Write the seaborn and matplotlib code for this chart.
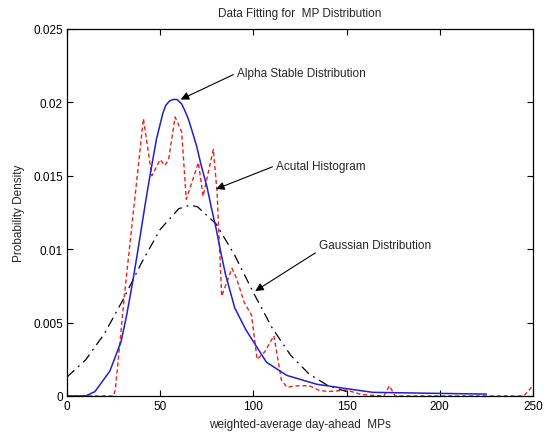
import matplotlib
matplotlib.use("Agg")
import matplotlib.pyplot as plt
import seaborn as sns
import pandas as pd

# ---- data ----
alpha_x = [0, 10, 15, 23, 29, 32, 35, 37.5, 40, 42, 44.5, 48, 51.5, 53, 55, 57, 59, 61.5, 63,
           65, 67, 69.6, 72, 75, 77.5, 80, 82.5, 85, 90, 96, 103, 107, 118, 134, 150, 164,
           188, 225]
alpha_y = [0, 0, 0.0003, 0.0017, 0.0037, 0.0055, 0.0076, 0.0095, 0.0115, 0.0131, 0.0150,
           0.0175, 0.0193, 0.0198, 0.0201, 0.0202, 0.0202, 0.0199, 0.0195, 0.0189, 0.0181,
           0.0170, 0.0157, 0.0143, 0.0128, 0.0114, 0.0098, 0.0083, 0.0060, 0.0045, 0.0031,
           0.0023, 0.0014, 0.0008, 0.0005, 0.00025, 0.0002, 0.00013]

hist_x = [0, 25, 26, 31, 36, 41, 45.5, 50, 52.5, 54.5, 58, 61.5, 64, 70.5, 73, 78.5, 80.5,
          83, 88.5, 91, 95, 99, 102, 106, 111, 115, 118, 124, 130, 135, 140, 150, 158, 170,
          173, 176, 180, 245, 250]
hist_y = [0, 0, 0.0005, 0.0071, 0.0130, 0.0189, 0.0150, 0.0161, 0.0157, 0.0161, 0.0190,
          0.0180, 0.0134, 0.0159, 0.0136, 0.0168, 0.0139, 0.0068, 0.0087, 0.0080, 0.0064,
          0.0055, 0.0025, 0.0030, 0.0041, 0.0011, 0.0006, 0.0007, 0.0007, 0.0004, 0.0003,
          0.0004, 0.0001, 0, 0.0007, 0, 0, 0, 0.0007]

gauss_x = [0, 10, 20, 30, 40, 50, 60, 66, 70, 80, 90, 100, 110, 120, 130, 140, 150]
gauss_y = [0.00129, 0.00246, 0.00423, 0.00654, 0.00908, 0.01135, 0.01276, 0.01300, 0.01289,
           0.01172, 0.00958, 0.00704, 0.00465, 0.00277, 0.00148, 0.00071, 0.00030]

x_ticks = [0, 50, 100, 150, 200, 250]
y_ticks = [0, 0.005, 0.01, 0.015, 0.02, 0.025]
y_tick_labels = ["0", "0.005", "0.01", "0.015", "0.02", "0.025"]

title = "Data Fitting for  MP Distribution"
xlabel = "weighted-average day-ahead  MPs"
ylabel = "Probability Density"

# ---- style ----
sns.set_style("ticks")
plt.rcParams["font.family"] = ["Liberation Sans", "DejaVu Sans"]
fs = 8.5

fig = plt.figure(figsize=(5.44, 4.39), dpi=100)
ax = fig.add_axes([67 / 544, 42 / 439, (533 - 67) / 544, (397 - 30) / 439])

df_h = pd.DataFrame({"x": hist_x, "y": hist_y})
df_g = pd.DataFrame({"x": gauss_x, "y": gauss_y})
df_a = pd.DataFrame({"x": alpha_x, "y": alpha_y})

sns.lineplot(data=df_h, x="x", y="y", ax=ax, color="#e8231f", lw=1.0,
             linestyle=(0, (3, 2)), estimator=None, sort=False)
sns.lineplot(data=df_g, x="x", y="y", ax=ax, color="black", lw=0.9,
             linestyle=(0, (8, 4, 1.5, 4)), estimator=None, sort=False)
sns.lineplot(data=df_a, x="x", y="y", ax=ax, color="#1f1fd0", lw=1.1,
             estimator=None, sort=False)

ax.set_xlim(0, 250)
ax.set_ylim(0, 0.025)
ax.set_xticks(x_ticks)
ax.set_xticklabels([str(t) for t in x_ticks], fontsize=fs)
ax.set_yticks(y_ticks)
ax.set_yticklabels(y_tick_labels, fontsize=fs)
ax.tick_params(direction="in", length=4, width=0.8, top=True, right=True, pad=3, colors="black")
for s in ax.spines.values():
    s.set_visible(True)
    s.set_linewidth(0.9)
    s.set_color("black")

ax.set_title(title, fontsize=fs, pad=9)
ax.set_xlabel(xlabel, fontsize=fs, labelpad=4)
ax.set_ylabel(ylabel, fontsize=fs, labelpad=6)

arrow = dict(arrowstyle="-|>", color="black", lw=0.8, mutation_scale=12, shrinkA=0, shrinkB=0)
ax.annotate("Alpha Stable Distribution", xy=(61, 0.0202), xytext=(91, 0.0220),
            fontsize=fs, ha="left", va="center",
            arrowprops=dict(arrow, relpos=(0, 0.5)))
ax.annotate("Acutal Histogram", xy=(80, 0.0141), xytext=(112, 0.0157),
            fontsize=fs, ha="left", va="center",
            arrowprops=dict(arrow, relpos=(0, 0.5)))
ax.annotate("Gaussian Distribution", xy=(101, 0.00715), xytext=(135, 0.0103),
            fontsize=fs, ha="left", va="center",
            arrowprops=dict(arrow, relpos=(0, 0.0)))

fig.savefig("out.png", dpi=100, facecolor="white")
